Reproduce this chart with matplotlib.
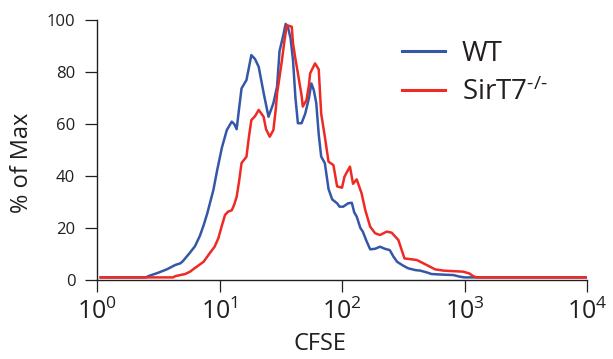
import numpy as np
import matplotlib
matplotlib.use("Agg")
import matplotlib.pyplot as plt

plt.rcParams['font.family'] = ['Open Sans', 'DejaVu Sans']
plt.rcParams['mathtext.fontset'] = 'custom'
plt.rcParams['mathtext.rm'] = 'Open Sans'
plt.rcParams['mathtext.it'] = 'Open Sans'

TEXT = '#231f20'
BLUE = '#3557a7'
RED = '#ee2a24'

# CFSE intensity given as log10 exponent, paired with % of max counts
wt_log = [0.03, 0.40, 0.42, 0.50, 0.57, 0.64, 0.68, 0.70, 0.75, 0.80, 0.84, 0.87,
          0.90, 0.93, 0.95, 0.98, 1.02, 1.06, 1.10, 1.12, 1.14, 1.16, 1.18, 1.22,
          1.26, 1.29, 1.32, 1.36, 1.40, 1.44, 1.47, 1.49, 1.52, 1.54, 1.56, 1.58,
          1.60, 1.62, 1.64, 1.67, 1.70, 1.73, 1.75, 1.77, 1.79, 1.81, 1.83, 1.86,
          1.89, 1.92, 1.96, 1.98, 2.01, 2.05, 2.08, 2.10, 2.12, 2.15, 2.17, 2.20,
          2.23, 2.27, 2.31, 2.35, 2.39, 2.42, 2.45, 2.50, 2.54, 2.60, 2.64, 2.70,
          2.73, 2.85, 2.91, 2.96, 3.00, 4.00]
wt_pct = [1, 1, 1.5, 2.8, 4.1, 5.8, 6.4, 7.2, 10, 13, 17, 21,
          25.6, 31, 34.6, 42, 51, 57.7, 60.9, 60, 58, 66, 73.7, 76.9,
          86.5, 85, 82, 72, 62.8, 68, 74.4, 88, 94, 98.5, 97, 93,
          84.6, 70, 60.3, 60.3, 64, 70, 75.6, 73, 68, 56, 47.5, 44.9,
          35, 31, 29.5, 28.2, 28.2, 29.5, 29.7, 26, 24.4, 20, 18.6, 15,
          11.8, 12, 12.8, 12, 11.5, 9, 7.0, 5.5, 4.5, 3.8, 3.6, 2.8,
          2.3, 2.0, 1.9, 1.3, 1, 1]

ko_log = [0.03, 0.62, 0.64, 0.72, 0.76, 0.79, 0.82, 0.87, 0.92, 0.96, 0.99, 1.02,
          1.045, 1.07, 1.10, 1.12, 1.14, 1.16, 1.18, 1.22, 1.24, 1.26, 1.29, 1.32,
          1.36, 1.38, 1.41, 1.44, 1.46, 1.47, 1.49, 1.51, 1.53, 1.55, 1.59, 1.60,
          1.62, 1.64, 1.67, 1.68, 1.71, 1.73, 1.74, 1.78, 1.81, 1.83, 1.86, 1.89,
          1.93, 1.96, 2.00, 2.02, 2.04, 2.065, 2.09, 2.12, 2.16, 2.19, 2.23, 2.27,
          2.31, 2.365, 2.405, 2.46, 2.51, 2.61, 2.69, 2.76, 2.83, 2.99, 3.04, 3.07,
          3.10, 4.00]
ko_pct = [1, 1, 1.5, 2.3, 3.2, 4.3, 5.3, 7.0, 10.3, 12.8, 16, 21,
          25, 26.3, 26.8, 29, 32, 38, 45, 47.4, 55, 61.5, 63, 65.4,
          62.8, 58, 55.1, 57.7, 66, 71.8, 78, 84.6, 92, 98, 97.4, 91,
          85, 79.5, 71, 66.7, 69.2, 75, 79.5, 83.3, 81, 64, 55.1, 45.5,
          44.2, 36, 35.5, 39.7, 41.5, 43.6, 37, 38.7, 33.3, 26.9, 20.5, 18,
          17.3, 18.6, 18.2, 15.4, 8.3, 7.7, 5.8, 4.1, 3.6, 3.2, 2.5, 1.5,
          1, 1]

series_labels = ['WT', r'$\mathregular{SirT7^{\text{-/-}}}$']
x_tick_exps = [0, 1, 2, 3, 4]
y_ticks = [0, 20, 40, 60, 80, 100]

fig = plt.figure(figsize=(6.13, 3.59), dpi=100)
ax = fig.add_axes([97 / 613, 79 / 359, 490 / 613, 260 / 359])

ax.plot(10 ** np.array(wt_log), wt_pct, color=BLUE, lw=1.8, label=series_labels[0],
        solid_joinstyle='round')
ax.plot(10 ** np.array(ko_log), ko_pct, color=RED, lw=1.8, label=series_labels[1],
        solid_joinstyle='round')

ax.set_xscale('log')
ax.set_xlim(1, 1e4)
ax.set_ylim(0, 100)
ax.set_xticks([10 ** e for e in x_tick_exps])
ax.set_xticklabels([r'$\mathregular{10^{%d}}$' % e for e in x_tick_exps])
ax.xaxis.set_minor_locator(matplotlib.ticker.NullLocator())
ax.set_yticks(y_ticks)
ax.set_yticklabels([str(v) for v in y_ticks])

for s in ['top', 'right']:
    ax.spines[s].set_visible(False)
for s in ['left', 'bottom']:
    ax.spines[s].set_color(TEXT)
    ax.spines[s].set_linewidth(1.0)

ax.tick_params(axis='x', direction='out', length=8.6, width=0.9, color=TEXT,
               labelsize=18, labelcolor=TEXT, pad=5)
ax.tick_params(axis='y', direction='out', length=8.6, width=0.9, color=TEXT,
               labelsize=12, labelcolor=TEXT, pad=7)

ax.set_xlabel('CFSE', fontsize=17, color=TEXT, va='center')
ax.xaxis.set_label_coords((320 - 97) / 490, (280 - 344) / 260)
ax.set_ylabel('% of Max', fontsize=17, color=TEXT, va='center')
ax.yaxis.set_label_coords((22 - 97) / 490, (280 - 163) / 260)

leg = ax.legend(loc='upper left', bbox_to_anchor=((402 - 97) / 490, (280 - 40) / 260),
                frameon=False, fontsize=20, handlelength=1.55, handletextpad=0.6,
                labelspacing=0.36, borderaxespad=0, borderpad=0)
for t in leg.get_texts():
    t.set_color(TEXT)
for h in leg.legend_handles:
    h.set_linewidth(2.2)

fig.savefig('out.png', dpi=100)
